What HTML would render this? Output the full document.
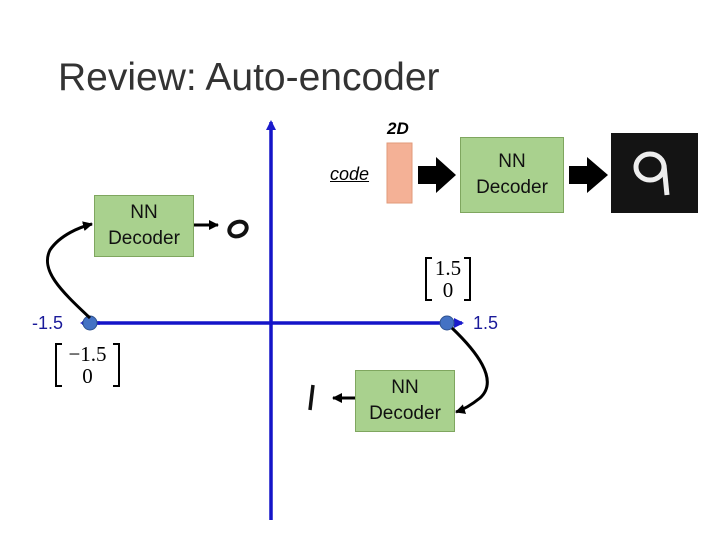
<!DOCTYPE html>
<html><head><style>
body{margin:0;width:720px;height:540px;background:#fff;position:relative;overflow:hidden;font-family:"Liberation Sans",sans-serif}
.t{position:absolute}
.box{position:absolute;background:#a9d18e;border:1px solid #7fa65f;box-sizing:border-box;display:flex;align-items:center;justify-content:center;text-align:center;font-size:19px;line-height:26px;color:#111}
.mx{font-family:"Liberation Serif",serif;font-size:21px;position:absolute;text-align:center;line-height:22px;box-sizing:border-box}
.br{position:absolute;top:0;width:7px;height:100%;border:2px solid #000;box-sizing:border-box}
</style></head><body>
<div class="t" style="left:58px;top:56px;font-size:39px;color:#333">Review: Auto-encoder</div>
<svg width="720" height="540" style="position:absolute;left:0;top:0">
<defs><marker id="a" markerUnits="userSpaceOnUse" markerWidth="12" markerHeight="12" refX="9" refY="5" orient="auto"><path d="M0,0L10,5L0,10z" fill="#000"/></marker>
<marker id="b" markerUnits="userSpaceOnUse" markerWidth="12" markerHeight="12" refX="8" refY="5" orient="auto"><path d="M0,0L10,5L0,10z" fill="#1a1acc"/></marker></defs>
<line x1="271" y1="520" x2="271" y2="122" stroke="#1414c8" stroke-width="3.5" marker-end="url(#b)"/>
<line x1="88" y1="323" x2="462" y2="323" stroke="#1414c8" stroke-width="3.5" marker-end="url(#b)"/>
<line x1="100" y1="323" x2="82" y2="323" stroke="#1414c8" stroke-width="3.5" marker-end="url(#b)"/>
<circle cx="90" cy="323" r="7" fill="#4472c4" stroke="#2f528f"/>
<circle cx="447" cy="323" r="7" fill="#4472c4" stroke="#2f528f"/>
<path d="M90,318 C60,290 40,270 50,250 C60,235 80,227 92,224" fill="none" stroke="#000" stroke-width="3" marker-end="url(#a)"/>
<path d="M452,328 C475,350 500,380 480,398 C470,406 462,410 456,412" fill="none" stroke="#000" stroke-width="3" marker-end="url(#a)"/>
<line x1="194" y1="225" x2="218" y2="225" stroke="#000" stroke-width="3" marker-end="url(#a)"/>
<line x1="355" y1="398" x2="333" y2="398" stroke="#000" stroke-width="3" marker-end="url(#a)"/>
<path d="M418,166h18v-9l20,18l-20,18v-9h-18z" fill="#000"/>
<path d="M569,166h18v-9l21,18l-21,18v-9h-18z" fill="#000"/>
<ellipse cx="238" cy="229" rx="9" ry="7" fill="none" stroke="#111" stroke-width="4" transform="rotate(-25 238 229)"/>
<line x1="313" y1="385" x2="310" y2="410" stroke="#111" stroke-width="3.5"/>
<rect x="611" y="133" width="87" height="80" fill="#141414"/>
<ellipse cx="650" cy="167" rx="14" ry="13" fill="none" stroke="#eee" stroke-width="5"/>
<path d="M664,165 L667,195" stroke="#eee" stroke-width="5" fill="none"/>
<rect x="387" y="143" width="25" height="60" fill="#f4b196" stroke="#e29a7a"/>
</svg>
<div class="t" style="left:387px;top:119px;font-size:17px;font-weight:bold;font-style:italic">2D</div>
<div class="t" style="left:330px;top:164px;font-size:18px;font-style:italic;text-decoration:underline">code</div>
<div class="box" style="left:460px;top:137px;width:104px;height:76px">NN<br>Decoder</div>
<div class="box" style="left:94px;top:195px;width:100px;height:62px">NN<br>Decoder</div>
<div class="box" style="left:355px;top:370px;width:100px;height:62px">NN<br>Decoder</div>
<div class="t" style="left:32px;top:313px;font-size:18px;color:#1a1a9a">-1.5</div>
<div class="t" style="left:473px;top:313px;font-size:18px;color:#1a1a9a">1.5</div>
<div class="mx" style="left:425px;top:257px;width:46px;height:44px"><div class="br" style="left:0;border-right:none"></div><div class="br" style="right:0;border-left:none"></div>1.5<br>0</div>
<div class="mx" style="left:55px;top:343px;width:65px;height:44px"><div class="br" style="left:0;border-right:none"></div><div class="br" style="right:0;border-left:none"></div>−1.5<br>0</div>
</body></html>
